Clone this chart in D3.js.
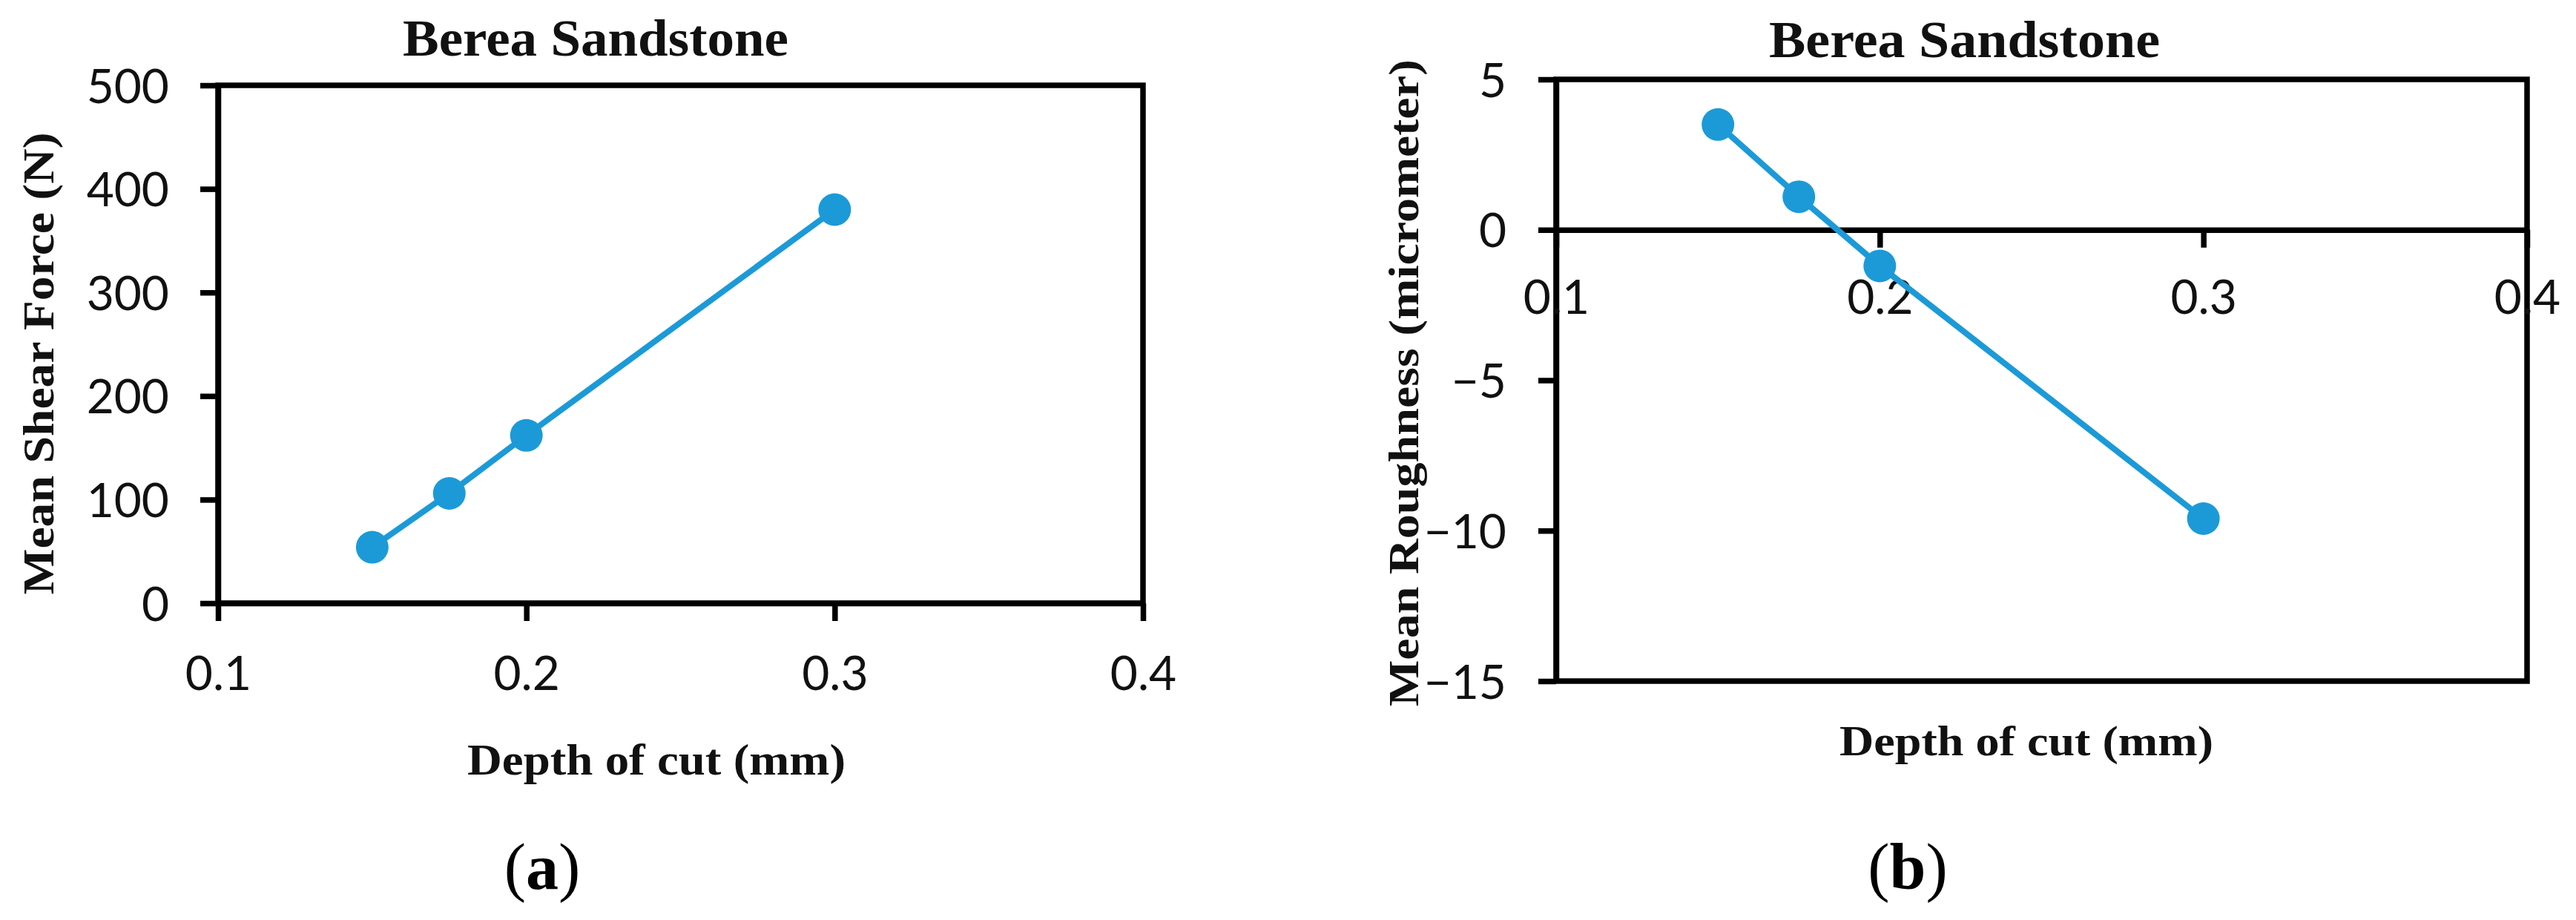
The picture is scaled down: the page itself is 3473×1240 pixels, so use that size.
<!DOCTYPE html>
<html>
<head>
<meta charset="utf-8">
<script src="https://cdn.jsdelivr.net/npm/d3@7"></script>
<style>
  body { margin: 0; background: #fff; }
  .tick text { font-family: Lato, "Open Sans", sans-serif; font-size: 64px; fill: #111; }
  .lab { font-family: "Liberation Serif", "Times New Roman", serif; font-weight: bold; fill: #111; }
</style>
</head>
<body>
<div id="chart"></div>
<script>
// data
let depth = [0.15, 0.175, 0.2, 0.3];
let shearForce = [54, 106, 162, 380];
let roughness = [3.5, 1.1, -1.2, -9.6];
let xTicks = [0.1, 0.2, 0.3, 0.4];
let forceTicks = [0, 100, 200, 300, 400, 500];
let roughTicks = [-15, -10, -5, 0, 5];

let blue = "#1c9ad7";
let W = 3473, H = 1240;

var svg = d3.select("#chart")
  .append("svg")
    .attr("width", W)
    .attr("height", H);

function drawPanel(opt) {
  let x = d3.scaleLinear().domain([0.1, 0.4]).range(opt.xr);
  let y = d3.scaleLinear().domain(opt.yd).range(opt.yr);
  let g = svg.append("g");

  // frame
  g.append("rect")
    .attr("x", x.range()[0]).attr("y", y.range()[1])
    .attr("width", x.range()[1] - x.range()[0])
    .attr("height", y.range()[0] - y.range()[1])
    .attr("fill", "none").attr("stroke", "#000").attr("stroke-width", 7.5);

  // y axis
  let ya = g.append("g")
    .attr("transform", "translate(" + x.range()[0] + ",0)")
    .call(d3.axisLeft(y).tickValues(opt.yt).tickSize(24).tickSizeOuter(0)
      .tickPadding(opt.ypad).tickFormat(d3.format("d")));
  ya.select(".domain").attr("stroke-width", 7.5);
  ya.selectAll(".tick line").attr("stroke-width", 7.5);
  ya.selectAll(".tick text").attr("dy", "0.36em");

  // x axis (at zero line)
  let xy = y(opt.xAt);
  let xa = g.append("g")
    .attr("transform", "translate(0," + xy + ")")
    .call(d3.axisBottom(x).tickValues(xTicks).tickSize(24).tickSizeOuter(0)
      .tickFormat(d3.format(".1f")));
  xa.select(".domain").attr("stroke-width", 7.5);
  xa.selectAll(".tick line").attr("stroke-width", 7.5);
  xa.selectAll(".tick text").attr("y", opt.xlabOff).attr("dy", 0);

  // series
  let pts = depth.map((d, i) => [d, opt.vals[i]]);
  g.append("path")
    .datum(pts)
    .attr("fill", "none")
    .attr("stroke", blue)
    .attr("stroke-width", 8)
    .attr("d", d3.line().x(d => x(d[0])).y(d => y(d[1])));
  g.selectAll(".pt")
    .data(pts)
    .enter()
    .append("circle")
      .attr("class", "pt")
      .attr("cx", d => x(d[0]))
      .attr("cy", d => y(d[1]))
      .attr("r", 22)
      .attr("fill", blue);

  // labels
  g.append("text").attr("class", "lab")
    .attr("x", opt.title[0]).attr("y", opt.title[1])
    .attr("font-size", 70)
    .attr("textLength", opt.title[2]).attr("lengthAdjust", "spacingAndGlyphs")
    .text("Berea Sandstone");
  g.append("text").attr("class", "lab")
    .attr("x", opt.xlab[0]).attr("y", opt.xlab[1])
    .attr("font-size", opt.xlab[3])
    .attr("textLength", opt.xlab[2]).attr("lengthAdjust", "spacingAndGlyphs")
    .text("Depth of cut (mm)");
  g.append("text").attr("class", "lab")
    .attr("transform", "translate(" + opt.ylab[0] + "," + opt.ylab[1] + ") rotate(-90)")
    .attr("text-anchor", "middle")
    .attr("font-size", opt.ylab[3])
    .attr("textLength", opt.ylab[2]).attr("lengthAdjust", "spacingAndGlyphs")
    .text(opt.ytitle);

  let cap = g.append("text")
    .attr("x", opt.cap[0]).attr("y", 1198)
    .attr("text-anchor", "middle")
    .attr("font-family", "'Liberation Serif', 'Times New Roman', serif")
    .attr("font-size", 88).attr("fill", "#000");
  cap.append("tspan").text("(");
  cap.append("tspan").attr("font-weight", "bold").text(opt.cap[1]);
  cap.append("tspan").text(")");
}

drawPanel({
  xr: [294, 1541], yd: [0, 500], yr: [813, 115], yt: forceTicks, ypad: 42,
  xAt: 0, xlabOff: 117, vals: shearForce,
  title: [543, 75, 520],
  xlab: [630, 1044, 510, 60],
  ylab: [72, 490, 623, 60],
  ytitle: "Mean Shear Force (N)",
  cap: [731, "a"]
});

drawPanel({
  xr: [2098, 3407], yd: [-15, 5], yr: [918, 107], yt: roughTicks, ypad: 43,
  xAt: 0, xlabOff: 113, vals: roughness,
  title: [2385, 77, 527],
  xlab: [2480, 1018, 504, 58],
  ylab: [1912, 516, 872, 57],
  ytitle: "Mean Roughness (micrometer)",
  cap: [2572, "b"]
});
</script>
</body>
</html>
